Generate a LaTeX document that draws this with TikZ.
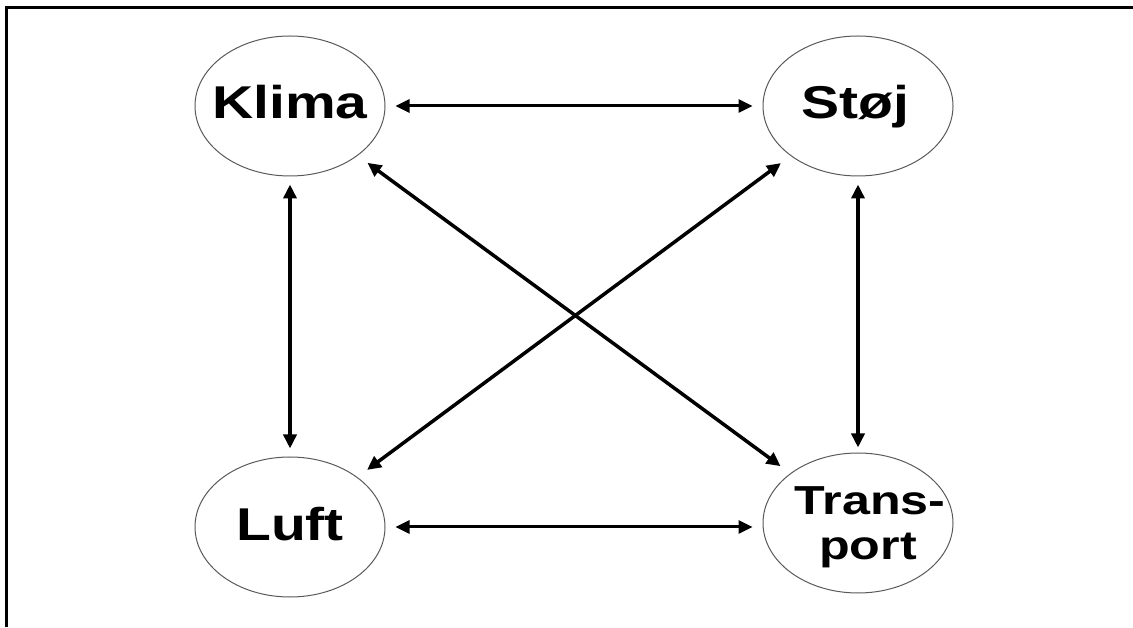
\documentclass[tikz,border=0pt]{standalone}
\usepackage{fontspec}
\setmainfont{Liberation Sans}[FakeStretch=1.24]
\usetikzlibrary{arrows.meta,shapes.geometric}
\tikzset{
  bubble/.style={ellipse, draw=black!65, line width=1pt, minimum width=190pt, minimum height=140pt, inner sep=0pt},
  lab/.style={font=\bfseries\fontsize{46}{46}\selectfont, anchor=base, inner sep=0pt},
  tlab/.style={font=\bfseries\fontsize{40.5}{45}\selectfont, anchor=base, inner sep=0pt},
  arr/.style={line width=3.5pt, {Triangle[length=14pt,width=13pt]}-{Triangle[length=14pt,width=13pt]}},
  harr/.style={arr, line width=3pt},
  frame/.style={line width=3pt}
}
\begin{document}
\begin{tikzpicture}[x=1pt,y=1pt]
\useasboundingbox (0,0) rectangle (1133,627);
\draw[frame] (1133,619) -- (6.5,619) -- (6.5,0);
\node[bubble] (klima) at (290,521) {};
\node[bubble] (stoj) at (858,521) {};
\node[bubble] (luft) at (290,100) {};
\node[bubble] (transport) at (858,104) {};
\node[lab] (klimalab) at ([yshift=-13pt]klima.center) {Klima};
\node[lab] (stojlab) at ([xshift=-3pt,yshift=-13pt]stoj.center) {Støj};
\node[lab] (luftlab) at ([yshift=-13pt]luft.center) {Luft};
\node[tlab] (translab) at ([xshift=12pt,yshift=8pt]transport.center) {Trans-};
\node[tlab] (portlab) at ([xshift=10pt,yshift=-37pt]transport.center) {port};
\draw[harr, shorten <=10pt, shorten >=10pt] (klima.east) -- (stoj.west);
\draw[harr, shorten <=10pt, shorten >=10pt] (luft.east) -- (luft.east -| transport.west);
\draw[arr, shorten <=8pt, shorten >=8pt] (klima.south) -- (luft.north);
\draw[arr, shorten <=8pt, shorten >=5pt] (stoj.south) -- (transport.north);
\draw[arr, shorten <=12pt, shorten >=12pt] (klima) -- (transport);
\draw[arr, shorten <=12pt, shorten >=12pt] (stoj) -- (luft);
\end{tikzpicture}
\end{document}
